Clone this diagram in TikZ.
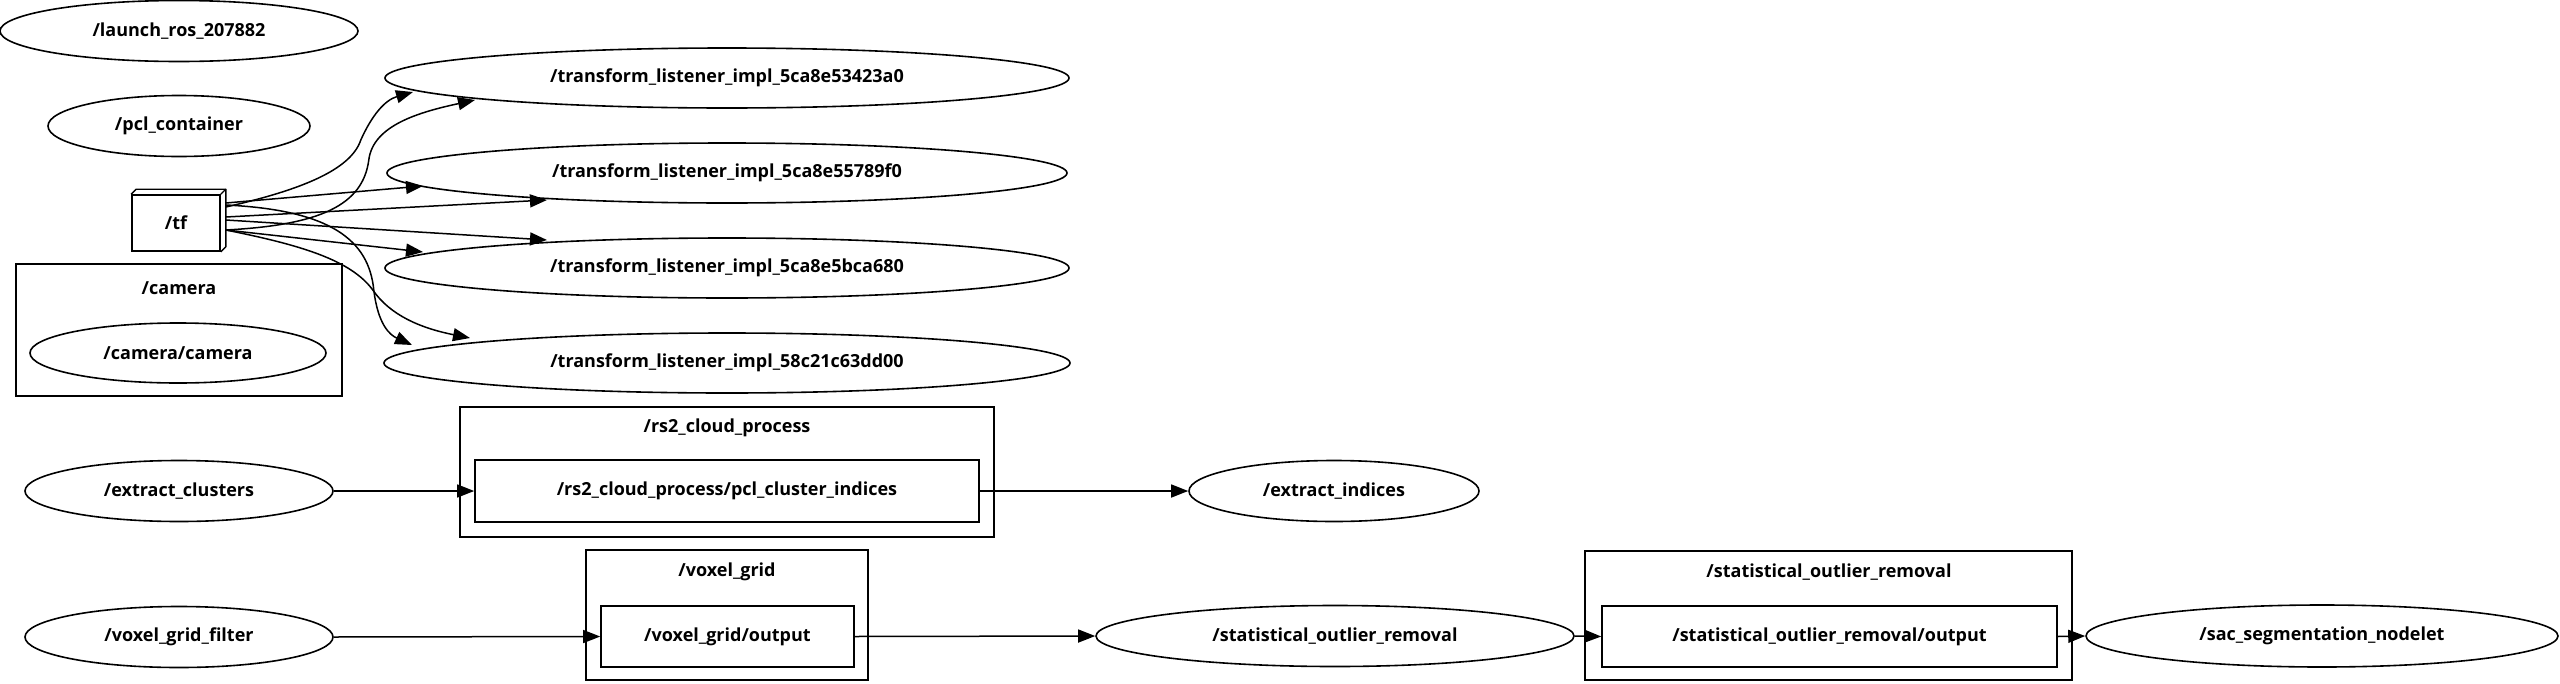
\documentclass[tikz,border=0pt]{standalone}
\usepackage{fontspec}
\setmainfont{Open Sans}
\usetikzlibrary{shapes.geometric,arrows.meta,calc}
\tikzset{
  lbl/.style={font=\fontsize{18}{18}\selectfont\bfseries, inner sep=0pt},
  rosnode/.style={draw, ellipse, line width=1.6pt, inner sep=0pt, minimum height=61pt, lbl},
  topic/.style={draw, rectangle, line width=1.6pt, inner sep=0pt, minimum height=61pt, lbl},
  cluster/.style={draw, rectangle, line width=1.4pt, inner sep=0pt},
  title/.style={lbl},
  edge/.style={line width=1.5pt, -{Triangle[length=17pt,width=13pt]}}
}
\begin{document}
\begin{tikzpicture}[x=1pt,y=-1pt]
\useasboundingbox (0,0) rectangle (2560,683);
% left column
\node[rosnode, minimum width=358pt] (launch) at (179,31) {/launch\_ros\_207882};
\node[rosnode, minimum width=262pt] (pcl) at (179,126) {/pcl\_container};
\node[topic, minimum width=88pt, minimum height=56pt] (tf) at (176,223) {/tf};
\draw[line width=1.4pt, line join=round] (tf.north west) -- ++(5,-5) -- ($(tf.north east)+(5,-5)$) -- ($(tf.south east)+(5,-5)$) -- (tf.south east);
\draw[line width=1.4pt] (tf.north east) -- ++(5,-5);
% camera cluster
\node[cluster, minimum width=326pt, minimum height=132pt] (camcl) at (179,330) {};
\node[title] (camtitle) at (179,288) {/camera};
\node[rosnode, minimum width=296pt, minimum height=60pt] (cam) at (178,353) {/camera/camera};
% transform listeners
\node[rosnode, minimum width=684pt, minimum height=60pt] (tl1) at (727,78) {/transform\_listener\_impl\_5ca8e53423a0};
\node[rosnode, minimum width=680pt, minimum height=60pt] (tl2) at (727,173) {/transform\_listener\_impl\_5ca8e55789f0};
\node[rosnode, minimum width=684pt, minimum height=60pt] (tl3) at (727,268) {/transform\_listener\_impl\_5ca8e5bca680};
\node[rosnode, minimum width=686pt, minimum height=60pt] (tl4) at (727,363) {/transform\_listener\_impl\_58c21c63dd00};
% rs2 cluster
\node[cluster, minimum width=534pt, minimum height=130pt] (rs2cl) at (727,472) {};
\node[title] (rs2title) at (727,428) {/rs2\_cloud\_process};
\node[topic, minimum width=504pt, minimum height=62pt] (rs2) at (727,491) {/rs2\_cloud\_process/pcl\_cluster\_indices};
\node[rosnode, minimum width=308pt] (exc) at (179,491) {/extract\_clusters};
\node[rosnode, minimum width=290pt] (exi) at (1334,491) {/extract\_indices};
% voxel grid cluster
\node[cluster, minimum width=282pt, minimum height=130pt] (vgcl) at (727,615) {};
\node[title] (vgtitle) at (727,572) {/voxel\_grid};
\node[topic, minimum width=253pt] (vgo) at (727.5,636.5) {/voxel\_grid/output};
\node[rosnode, minimum width=308pt] (vgf) at (179,637) {/voxel\_grid\_filter};
\node[rosnode, minimum width=478pt] (sor) at (1335,636) {/statistical\_outlier\_removal};
% statistical cluster
\node[cluster, minimum width=487pt, minimum height=129pt] (sorcl) at (1828.5,615.5) {};
\node[title] (sortitle) at (1829,572) {/statistical\_outlier\_removal};
\node[topic, minimum width=455pt] (soro) at (1829.5,636.5) {/statistical\_outlier\_removal/output};
\node[rosnode, minimum width=472pt, minimum height=62pt] (sac) at (2322,636) {/sac\_segmentation\_nodelet};
% straight edges
\draw[edge] (exc.east) -- (rs2.west);
\draw[edge] (rs2.east) -- (exi.west);
\draw[edge] (vgf.east) -- (vgo.west);
\draw[edge] (vgo.east) -- (sor.west);
\draw[edge] (sor.east) -- (soro.west);
\draw[edge] (soro.east) -- (sac.west);
% tf edges
\draw[edge] ($(tf.east)+(5,-16)$) .. controls ($(tf.east)+(80,-33)$) and ($(tf.east)+(130,-53)$) .. ($(tf.east)+(140,-83)$) .. controls ($(tl1.center)+(-355,37)$) and ($(tl1.center)+(-342,22)$) .. ($(tl1.center)+(-314,14)$);
\draw[edge] ($(tf.east)+(5,7)$) .. controls ($(tf.east)+(100,2)$) and ($(tf.east)+(142,-18)$) .. ($(tf.east)+(148,-63)$) .. controls ($(tl1.center)+(-354,47)$) and ($(tl1.center)+(-307,34)$) .. ($(tl1.center)+(-252,22)$);
\draw[edge] ($(tf.east)+(5,-20)$) -- ($(tl2.center)+(-304,13)$);
\draw[edge] ($(tf.east)+(5,-6)$) -- ($(tl2.center)+(-180,27)$);
\draw[edge] ($(tf.east)+(5,-3)$) -- ($(tl3.center)+(-180,-28)$);
\draw[edge] ($(tf.east)+(5,7)$) -- ($(tl3.center)+(-304,-16)$);
\draw[edge] ($(tf.east)+(5,-18)$) .. controls ($(tf.east)+(110,-13)$) and ($(tf.east)+(148,17)$) .. ($(tf.east)+(153,67)$) .. controls ($(tl4.center)+(-349,-38)$) and ($(tl4.center)+(-337,-28)$) .. ($(tl4.center)+(-315,-18)$);
\draw[edge] ($(tf.east)+(5,7)$) .. controls ($(tf.east)+(80,22)$) and ($(tf.east)+(130,37)$) .. ($(tf.east)+(152,67)$) .. controls ($(tl4.center)+(-337,-48)$) and ($(tl4.center)+(-307,-35)$) .. ($(tl4.center)+(-257,-25)$);
\end{tikzpicture}
\end{document}
